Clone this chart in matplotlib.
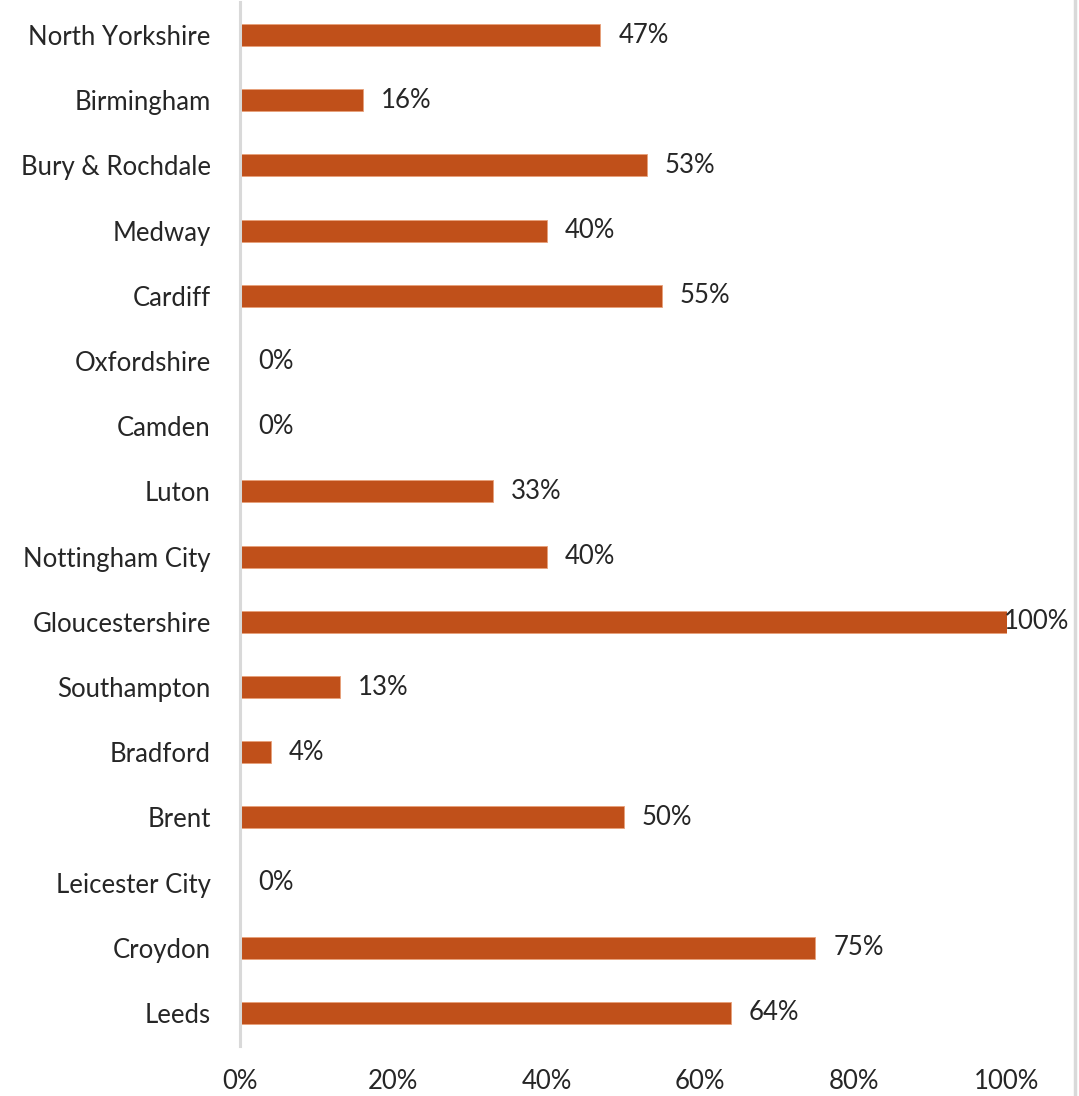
import matplotlib
matplotlib.use("Agg")
import matplotlib.pyplot as plt
from matplotlib.lines import Line2D
from matplotlib.ticker import FuncFormatter

categories = ["North Yorkshire", "Birmingham", "Bury & Rochdale", "Medway", "Cardiff",
              "Oxfordshire", "Camden", "Luton", "Nottingham City", "Gloucestershire",
              "Southampton", "Bradford", "Brent", "Leicester City", "Croydon", "Leeds"]
values = [47, 16, 53, 40, 55, 0, 0, 33, 40, 100, 13, 4, 50, 0, 75, 64]
x_ticks = [0, 20, 40, 60, 80, 100]

plt.rcParams['font.family'] = ['Lato', 'DejaVu Sans']

fig = plt.figure(figsize=(10.79, 10.96), dpi=100)
ax = fig.add_axes([240/1079, 1 - 1045.6/1096, (1007-240)/1079, (1045.6-2.4)/1096])

bar_color = "#C0501A"
ypos = list(range(len(categories)))
ax.barh(ypos, values, height=0.34, color=bar_color, edgecolor="#E8A07A", linewidth=0.6)
ax.set_ylim(len(categories) - 0.5, -0.5)
ax.set_xlim(0, 100)
ax.set_yticks(ypos)
ax.set_yticklabels(categories, fontsize=18.5, color="#262626")
ax.set_xticks(x_ticks)
ax.xaxis.set_major_formatter(FuncFormatter(lambda v, p: f"{int(v)}%"))
ax.tick_params(axis='x', labelsize=18.5, labelcolor="#262626", length=0, pad=17)
ax.tick_params(axis='y', length=0, pad=21)

for s in ["top", "right", "bottom"]:
    ax.spines[s].set_visible(False)
ax.spines["left"].set_color("#D9D9D9")
ax.spines["left"].set_linewidth(2.2)

for y, v in zip(ypos, values):
    off = -2 if v >= 100 else 13
    ax.annotate(f"{v}%", (v, y), xytext=(off, 0), textcoords="offset points",
                va="center", ha="left", fontsize=18.5, color="#262626")

fig.add_artist(Line2D([1074.5/1079, 1074.5/1079], [0, 1], transform=fig.transFigure,
                      color="#D9D9D9", linewidth=2.5))

fig.savefig("out.png", dpi=100, facecolor="white")
